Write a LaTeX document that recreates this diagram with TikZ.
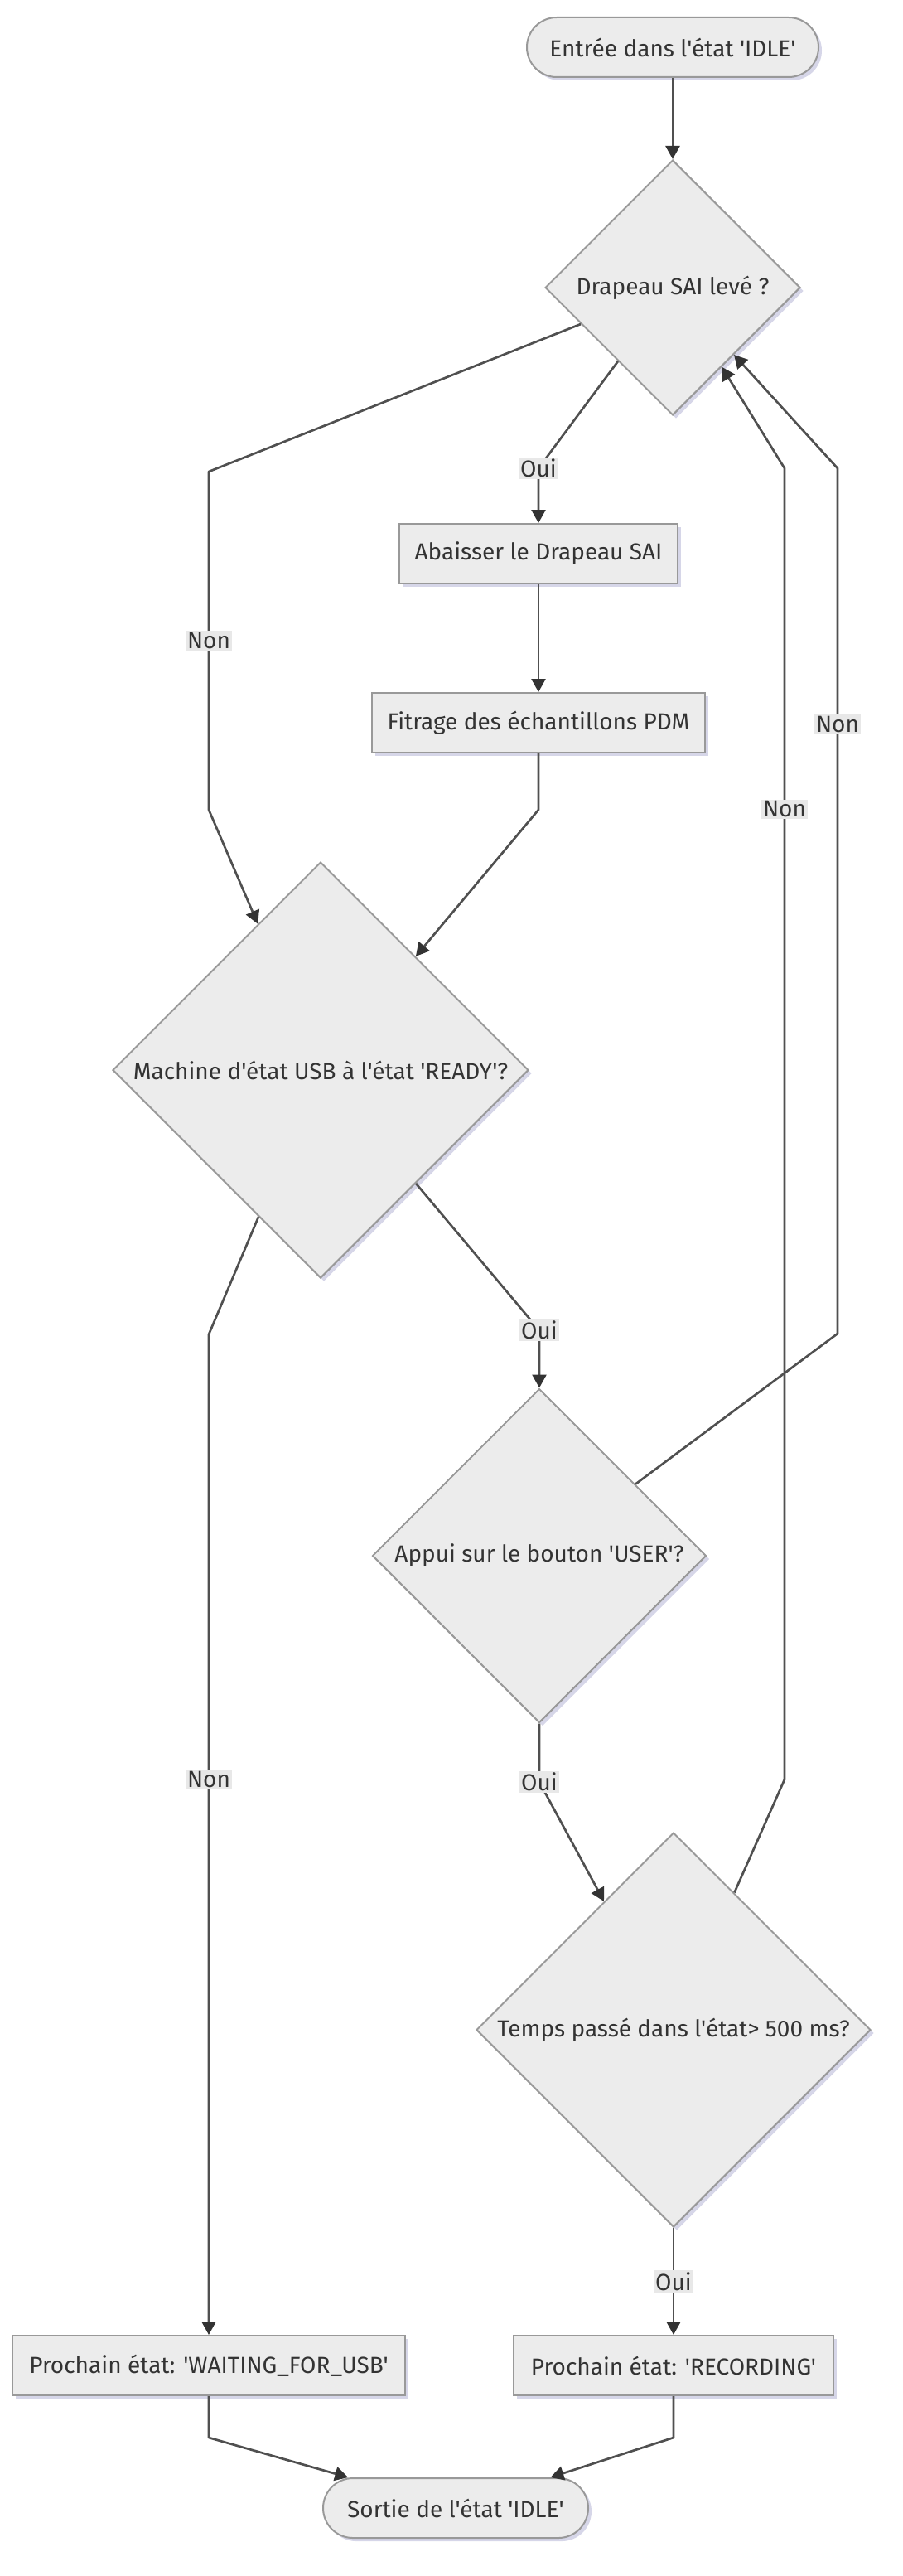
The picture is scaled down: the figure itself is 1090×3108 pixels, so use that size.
\documentclass[tikz,border=0pt]{standalone}
\usepackage{xcolor}
\usepackage{mathtools}
\usepackage{fontspec}
\setmainfont{Fira Sans}[Ligatures=TeXOff]
\usetikzlibrary{shapes.geometric,shadows,arrows.meta}
\definecolor{nodefill}{RGB}{236,236,236}
\definecolor{nodeline}{RGB}{153,153,153}
\definecolor{textc}{RGB}{51,51,51}
\definecolor{edgec}{RGB}{80,80,80}
\definecolor{arrowc}{RGB}{51,51,51}
\definecolor{lblfill}{RGB}{232,232,232}
\definecolor{shadowc}{RGB}{196,196,222}

\begin{document}
\begin{tikzpicture}[x=0.5pt, y=-0.5pt, node distance=145pt,
    font=\fontsize{14}{17}\selectfont, text=textc,
    base/.style={draw=nodeline, fill=nodefill, line width=1pt,
        drop shadow={shadow xshift=2pt, shadow yshift=-2pt, fill=shadowc, opacity=.7}},
    terminal/.style={base, rectangle, rounded corners=18pt, minimum height=36pt},
    box/.style={base, rectangle, minimum height=36pt},
    decision/.style={base, diamond, aspect=1, inner sep=0pt},
    flow/.style={draw=edgec, line width=1.35pt, line join=round,
        -{Triangle[length=8pt, width=8.5pt, color=arrowc]}},
    lbl/.style={fill=lblfill, inner sep=1pt, text=textc}]
    \useasboundingbox (0,0) rectangle (1090,3108);
    \node[terminal, minimum width=176pt] (start) at (812,57) {Entrée dans l'état 'IDLE'};
    \node[decision, minimum size=154pt, below of=start] (sai) {\clap{Drapeau SAI levé ?}};
    \node[box, minimum width=168pt, below of=sai, node distance=160.5pt, xshift=-81pt] (abaisser) {Abaisser le Drapeau SAI};
    \node[box, minimum width=201pt, below of=abaisser, node distance=102pt] (filtrage) {Fitrage des échantillons PDM};
    \node[decision, minimum size=251pt, below of=filtrage, node distance=209.5pt, xshift=-131.5pt] (usb) {\clap{Machine d'état USB à l'état 'READY'?}};
    \node[decision, minimum size=201.5pt, below of=usb, node distance=293pt, xshift=132pt] (user) {\clap{Appui sur le bouton 'USER'?}};
    \node[decision, minimum size=238pt, below of=user, node distance=286pt, xshift=81pt] (temps) {\clap{Temps passé dans l'état> 500 ms?}};
    \node[box, minimum width=193pt, below of=temps, node distance=202.5pt] (recording) {Prochain état: 'RECORDING'};
    \node[box, minimum width=237pt, left of=recording, node distance=280.5pt] (waiting) {Prochain état: 'WAITING\_FOR\_USB'};
    \node[terminal, minimum width=160pt, below of=waiting, node distance=86pt, xshift=149pt] (fin) {Sortie de l'état 'IDLE'};
    \draw[flow] (start) -- (sai);
    \draw[flow] (sai) -- (252,569) -- (252,977) node[lbl, midway] {Non} -- (usb);
    \draw[flow] (sai) -- (650,565) node[lbl] {Oui} -- (abaisser);
    \draw[flow] (abaisser) -- (filtrage);
    \draw[flow] (filtrage) -- (650,977) -- (usb);
    \draw[flow] (usb) -- (651,1605) node[lbl] {Oui} -- (user);
    \draw[flow] (usb) -- (252,1610) -- (waiting) node[lbl, pos=.445] {Non};
    \draw[flow] (user) -- (1011,1609) -- (1011,565) node[lbl, pos=.704] {Non} -- (sai);
    \draw[flow] (user) -- (651,2150) node[lbl] {Oui} -- (temps);
    \draw[flow] (temps) -- (947,2147) -- (947,565) node[lbl, pos=.74] {Non} -- (sai);
    \draw[flow] (temps) -- (recording) node[lbl, midway] {Oui};
    \draw[flow] (waiting) -- (252,2941) -- (fin);
    \draw[flow] (recording) -- (813,2941) -- (fin);
\end{tikzpicture}
\end{document}
